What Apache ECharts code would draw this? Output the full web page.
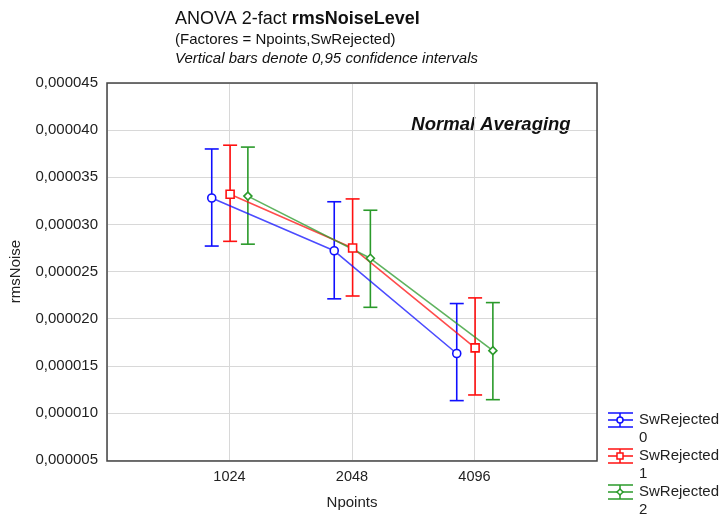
<!DOCTYPE html>
<html>
<head>
<meta charset="utf-8">
<script src="https://cdn.jsdelivr.net/npm/echarts@6/dist/echarts.min.js"></script>
<style>
  html, body { margin: 0; padding: 0; background: #fff; }
  #chart { width: 722px; height: 515px; }
</style>
</head>
<body>
<div id="chart"></div>
<script>
// data
const npoints = ['1024', '2048', '4096']
const groups = ['SwRejected\n0', 'SwRejected\n1', 'SwRejected\n2']

const mean0 = [32.8e-6, 27.2e-6, 16.3e-6]
const low0 = [27.7e-6, 22.1e-6, 11.3e-6]
const high0 = [38.0e-6, 32.4e-6, 21.6e-6]

const mean1 = [33.2e-6, 27.5e-6, 16.9e-6]
const low1 = [28.2e-6, 22.4e-6, 11.9e-6]
const high1 = [38.4e-6, 32.7e-6, 22.2e-6]

const mean2 = [33.0e-6, 26.4e-6, 16.6e-6]
const low2 = [27.9e-6, 21.2e-6, 11.4e-6]
const high2 = [38.2e-6, 31.5e-6, 21.7e-6]

const yTicks = { min: 0.000005, max: 0.000045, step: 0.000005 }

const colors = ['#1010ff', '#ff1010', '#2a9a2a']
const symbols = ['circle', 'rect', 'diamond']
const offsets = [-0.145, 0.005, 0.15]

const means = [mean0, mean1, mean2]
const lows = [low0, low1, low2]
const highs = [high0, high1, high2]

const chart = echarts.init(document.getElementById('chart'))
const FONT = '"Liberation Sans", Arial, sans-serif'

const series = []
groups.forEach((g, s) => {
  series.push({
    name: g,
    type: 'line',
    data: means[s].map((v, i) => [i + 1 + offsets[s], v]),
    symbol: symbols[s],
    symbolSize: 8,
    showSymbol: true,
    itemStyle: { color: '#fff', borderColor: colors[s], borderWidth: 1.6 },
    lineStyle: { color: colors[s], width: 1.6, opacity: 0.75 },
    z: 3
  })
  series.push({
    name: g,
    type: 'custom',
    data: means[s].map((v, i) => [i + 1 + offsets[s], lows[s][i], highs[s][i]]),
    renderItem: function (params, api) {
      const lo = api.coord([api.value(0), api.value(1)])
      const hi = api.coord([api.value(0), api.value(2)])
      const w = 7
      const st = { stroke: colors[s], lineWidth: 1.6 }
      return {
        type: 'group',
        children: [
          { type: 'line', shape: { x1: lo[0], y1: lo[1], x2: hi[0], y2: hi[1] }, style: st },
          { type: 'line', shape: { x1: hi[0] - w, y1: hi[1], x2: hi[0] + w, y2: hi[1] }, style: st },
          { type: 'line', shape: { x1: lo[0] - w, y1: lo[1], x2: lo[0] + w, y2: lo[1] }, style: st }
        ]
      }
    },
    z: 2
  })
})

// legend drawn by hand to get the error bar icons
const legendItems = groups.map((g, s) => {
  const cy = 420 + s * 36
  const st = { stroke: colors[s], lineWidth: 1.5 }
  let marker
  if (s === 0) marker = { type: 'circle', shape: { cx: 620, cy: cy, r: 3 }, style: { fill: '#fff', stroke: colors[s], lineWidth: 1.5 } }
  else if (s === 1) marker = { type: 'rect', shape: { x: 617, y: cy - 3, width: 6, height: 6 }, style: { fill: '#fff', stroke: colors[s], lineWidth: 1.5 } }
  else marker = { type: 'polygon', shape: { points: [[620, cy - 3], [623, cy], [620, cy + 3], [617, cy]] }, style: { fill: '#fff', stroke: colors[s], lineWidth: 1.5 } }
  return {
    type: 'group',
    children: [
      { type: 'line', shape: { x1: 608, y1: cy - 7, x2: 633, y2: cy - 7 }, style: st },
      { type: 'line', shape: { x1: 608, y1: cy, x2: 633, y2: cy }, style: st },
      { type: 'line', shape: { x1: 608, y1: cy + 7, x2: 633, y2: cy + 7 }, style: st },
      { type: 'line', shape: { x1: 620, y1: cy - 7, x2: 620, y2: cy + 7 }, style: st },
      marker,
      { type: 'text', x: 639, y: cy - 9, style: { text: g, font: '15px ' + FONT, fill: '#222', lineHeight: 18 } }
    ]
  }
})

const option = {
  animation: false,
  backgroundColor: '#fff',
  textStyle: { fontFamily: FONT },
  title: {
    left: 170,
    top: 3,
    text: '{n|ANOVA 2-fact }{b|rmsNoiseLevel}\n{s|(Factores = Npoints,SwRejected)}\n{i|Vertical bars denote 0,95 confidence intervals}',
    textStyle: {
      fontWeight: 'normal',
      rich: {
        n: { fontSize: 18, color: '#111', fontWeight: 'normal', fontFamily: FONT, lineHeight: 22 },
        b: { fontSize: 18, color: '#111', fontWeight: 'bold', fontFamily: FONT, lineHeight: 22 },
        s: { fontSize: 15, color: '#111', fontWeight: 'normal', fontFamily: FONT, lineHeight: 19 },
        i: { fontSize: 15, color: '#111', fontWeight: 'normal', fontStyle: 'italic', fontFamily: FONT, lineHeight: 19 }
      }
    }
  },
  grid: { left: 107, right: 125, top: 83, bottom: 54 },
  xAxis: {
    type: 'value',
    min: 0,
    max: 4,
    interval: 1,
    name: 'Npoints',
    nameLocation: 'middle',
    nameGap: 35,
    nameTextStyle: { fontSize: 15, color: '#222', fontFamily: FONT },
    axisLine: { show: false },
    axisTick: { show: false },
    axisLabel: {
      fontSize: 14.5, color: '#222', margin: 9, fontFamily: FONT,
      formatter: v => (v >= 1 && v <= npoints.length) ? npoints[v - 1] : ''
    },
    splitLine: { lineStyle: { color: '#d8d8d8', width: 1 } }
  },
  yAxis: {
    type: 'value',
    min: yTicks.min,
    max: yTicks.max,
    interval: yTicks.step,
    name: 'rmsNoise',
    nameLocation: 'middle',
    nameGap: 84,
    nameTextStyle: { fontSize: 15, color: '#222', fontFamily: FONT },
    axisLine: { show: false },
    axisTick: { show: false },
    axisLabel: {
      fontSize: 15, color: '#222', margin: 9, fontFamily: FONT,
      formatter: v => v.toFixed(6).replace('.', ',')
    },
    splitLine: { lineStyle: { color: '#d8d8d8', width: 1 } }
  },
  series: series,
  graphic: [
    {
      type: 'rect',
      shape: { x: 107, y: 83, width: 490, height: 378 },
      style: { fill: null, stroke: '#444', lineWidth: 1.5 },
      silent: true,
      z: 10
    },
    {
      type: 'text',
      x: 491,
      y: 125,
      style: {
        text: 'Normal Averaging',
        font: 'italic bold 18.5px ' + FONT,
        fill: '#111',
        textAlign: 'center',
        textVerticalAlign: 'middle'
      }
    }
  ].concat(legendItems)
}

chart.setOption(option)
</script>
</body>
</html>
